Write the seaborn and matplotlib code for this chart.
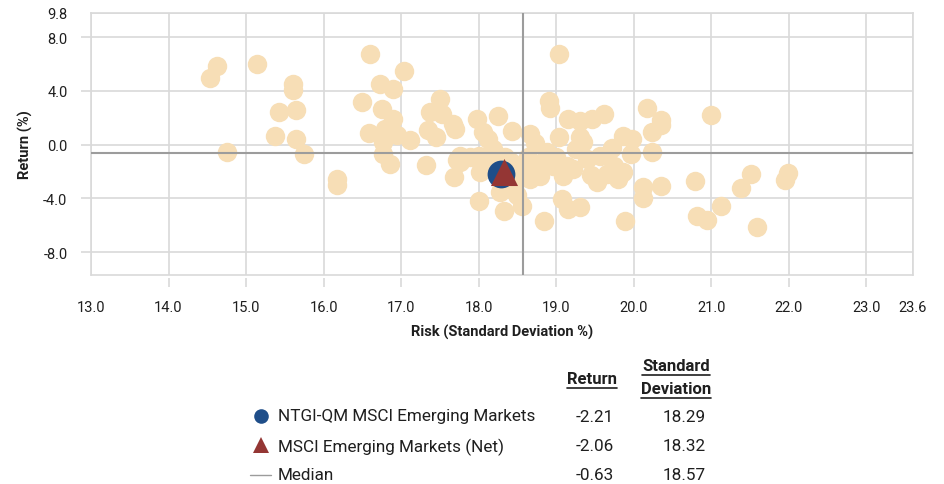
import matplotlib
matplotlib.use("Agg")
import matplotlib.pyplot as plt
from matplotlib.lines import Line2D
import seaborn as sns
import pandas as pd

# Peer universe: risk (standard deviation %) and return (%)
peer_risk = [
    14.62, 14.54, 15.14, 15.60, 15.60, 15.42, 15.65, 15.37, 15.65, 15.75, 14.75, 16.17, 16.17,
    16.60, 17.04, 16.73, 16.89, 16.50, 16.75, 16.90, 16.59, 16.79, 16.94, 17.12, 16.77, 16.77,
    16.86, 17.32, 17.50, 17.37, 17.52, 17.35, 17.45, 17.70, 17.72, 17.68, 17.67,
    17.98, 18.25, 18.06, 18.43, 18.66, 17.76, 17.89, 18.02, 18.19, 18.34, 18.63, 18.66, 18.28,
    18.00, 18.32, 18.56, 18.49, 18.79, 18.45, 18.91, 18.92, 19.04, 19.15, 19.31, 19.61, 19.46,
    19.03, 19.31, 19.86, 18.83, 19.14, 19.40, 19.57, 19.74, 18.79, 19.09, 19.53, 19.79, 19.86,
    19.15, 19.31, 19.35, 18.96, 19.22, 19.66, 18.84, 19.07, 19.89, 17.76, 18.00, 18.41, 18.64,
    18.32, 18.20, 18.50, 18.88, 19.00, 19.25, 19.45, 19.66, 19.72, 18.72, 18.12,
    20.17, 20.35, 20.35, 20.23, 20.23, 19.96, 19.97, 20.99, 20.12, 20.12, 20.35, 20.79, 20.82,
    20.94, 21.12, 21.38, 21.51, 21.59, 21.99, 21.95,
]
peer_return = [
    5.84, 4.93, 5.97, 4.55, 4.05, 2.44, 2.56, 0.65, 0.45, -0.67, -0.55, -2.54, -2.99,
    6.72, 5.52, 4.55, 4.18, 3.19, 2.69, 1.94, 0.90, 1.19, 0.69, 0.32, 0.20, -0.67,
    -1.42, -1.54, 3.43, 2.44, 2.31, 1.07, 0.57, 1.19, -1.17, -2.41, 1.57,
    1.94, 2.16, 0.97, 1.04, 0.82, -1.27, -0.90, -2.01, -0.30, -0.90, -1.27, -2.54, -3.51,
    -4.16, -4.97, -4.53, -3.78, -1.57, -3.04, 3.28, 2.76, 6.72, 1.94, 1.79, 2.31, 1.94,
    0.60, 0.60, 0.67, -1.27, -1.57, -1.04, -0.82, -1.57, -2.31, -2.31, -2.76, -2.54, -2.01,
    -4.78, -4.63, 0.22, -1.57, -1.79, -0.82, -5.67, -4.03, -5.67, -0.82, -0.82, -1.27, -0.90,
    -3.06, -1.50, -1.85, -0.55, -0.95, -0.35, -2.25, -2.15, -0.25, 0.15, 0.45,
    2.74, 1.81, 1.44, 0.95, -0.55, -0.67, 0.45, 2.24, -3.16, -3.98, -3.04, -2.74, -5.30,
    -5.57, -4.53, -3.21, -2.16, -6.14, -2.09, -2.61,
]

fund_name = "NTGI-QM MSCI Emerging Markets"
fund_return = -2.21
fund_risk = 18.29
bench_name = "MSCI Emerging Markets (Net)"
bench_return = -2.06
bench_risk = 18.32
median_name = "Median"
median_return = -0.63
median_risk = 18.57

x_ticks = [13.0, 14.0, 15.0, 16.0, 17.0, 18.0, 19.0, 20.0, 21.0, 22.0, 23.0, 23.6]
y_ticks = [-8.0, -4.0, 0.0, 4.0, 8.0, 9.8]

WHEAT = "#F7DEB6"
BLUE = "#1F4E89"
RED = "#943634"
GRID = "#D9D9D9"
MEDIAN = "#9C9C9C"
TEXT = "#1F1F1F"

sns.set_theme(style="white")
plt.rcParams["font.family"] = ["Roboto", "DejaVu Sans"]

W, H = 944, 485
fig = plt.figure(figsize=(W / 100, H / 100), dpi=100)
ax = fig.add_axes([91 / W, 1 - 276 / H, 822 / W, 262 / H])

peers = pd.DataFrame({"risk": peer_risk, "ret": peer_return})
sns.scatterplot(data=peers, x="risk", y="ret", ax=ax, color=WHEAT, s=196,
                linewidth=0, zorder=3, legend=False)
ax.axhline(median_return, color=MEDIAN, lw=1.5, zorder=4)
ax.axvline(median_risk, color=MEDIAN, lw=1.5, zorder=4)
sns.scatterplot(x=[fund_risk], y=[fund_return], ax=ax, marker="o", s=400,
                color=BLUE, linewidth=0, zorder=5, legend=False)
sns.scatterplot(x=[bench_risk], y=[bench_return], ax=ax, marker="^", s=380,
                color=RED, linewidth=0, zorder=6, legend=False)

ax.set_xlim(13.0, 23.6)
ax.set_ylim(-9.7, 9.8)
ax.set_xticks(x_ticks)
ax.set_xticklabels([f"{v:.1f}" for v in x_ticks])
ax.set_yticks(y_ticks)
ax.set_yticklabels([f"{v:.1f}" for v in y_ticks])

ax.set_axisbelow(True)
ax.grid(True, color=GRID, lw=1.2)
for side in ["left", "right", "top"]:
    ax.spines[side].set_color(GRID)
    ax.spines[side].set_linewidth(1.2)
ax.spines["bottom"].set_position(("outward", 2.5))
ax.spines["bottom"].set_visible(False)
ax.axhline(-9.7, color=GRID, lw=1.2, zorder=0.5, clip_on=False)

ax.tick_params(axis="x", direction="out", length=6.5, width=1.2, color=GRID,
               pad=9, labelsize=10.5, labelcolor=TEXT, bottom=True)
ax.tick_params(axis="y", direction="out", length=7, width=1.2, color=GRID,
               pad=10, labelsize=10.5, labelcolor=TEXT, left=True)
xt = ax.xaxis.get_major_ticks()
xt[0].tick1line.set_visible(False)
xt[-1].tick1line.set_visible(False)
yt = ax.yaxis.get_major_ticks()
yt[-1].tick1line.set_visible(False)

ax.set_xlabel("Risk (Standard Deviation %)", fontsize=10.5, fontweight="bold",
              color=TEXT, labelpad=7)
ax.set_ylabel("Return (%)", fontsize=10.5, fontweight="bold", color=TEXT, labelpad=7)


def fx(px):
    return px / W


def fy(py):
    return 1 - py / H


# Summary table below the chart
headers = [("Return", 592, 380), ("Standard", 676, 367), ("Deviation", 676, 390)]
header_texts = []
for label, hx, hy in headers:
    t = fig.text(fx(hx), fy(hy), label, ha="center", va="center", fontsize=12,
                 fontweight="bold", color=TEXT)
    header_texts.append(t)

rows = [
    (fund_name, fund_return, fund_risk, 417),
    (bench_name, bench_return, bench_risk, 447),
    (median_name, median_return, median_risk, 476),
]
for name, ret, risk, ry in rows:
    fig.text(fx(278), fy(ry), name, ha="left", va="center", fontsize=12.3, color=TEXT)
    fig.text(fx(595), fy(ry), f"{ret:.2f}", ha="center", va="center", fontsize=12.3, color=TEXT)
    fig.text(fx(684), fy(ry), f"{risk:.2f}", ha="center", va="center", fontsize=12.3, color=TEXT)

fig.add_artist(Line2D([fx(261)], [fy(417)], marker="o", markersize=10.5,
                      color=BLUE, markeredgewidth=0, transform=fig.transFigure))
fig.add_artist(Line2D([fx(261)], [fy(446)], marker="^", markersize=11.5,
                      color=RED, markeredgewidth=0, transform=fig.transFigure))
fig.add_artist(Line2D([fx(250), fx(271)], [fy(476), fy(476)], lw=1.0,
                      color=MEDIAN, transform=fig.transFigure))

renderer = fig.canvas.get_renderer()
for t in header_texts:
    bb = t.get_window_extent(renderer=renderer)
    y_line = (bb.y0 - 1.5) / H
    fig.add_artist(Line2D([bb.x0 / W, bb.x1 / W], [y_line, y_line], lw=1.2,
                          color=TEXT, transform=fig.transFigure))

fig.savefig("out.png", dpi=100)
